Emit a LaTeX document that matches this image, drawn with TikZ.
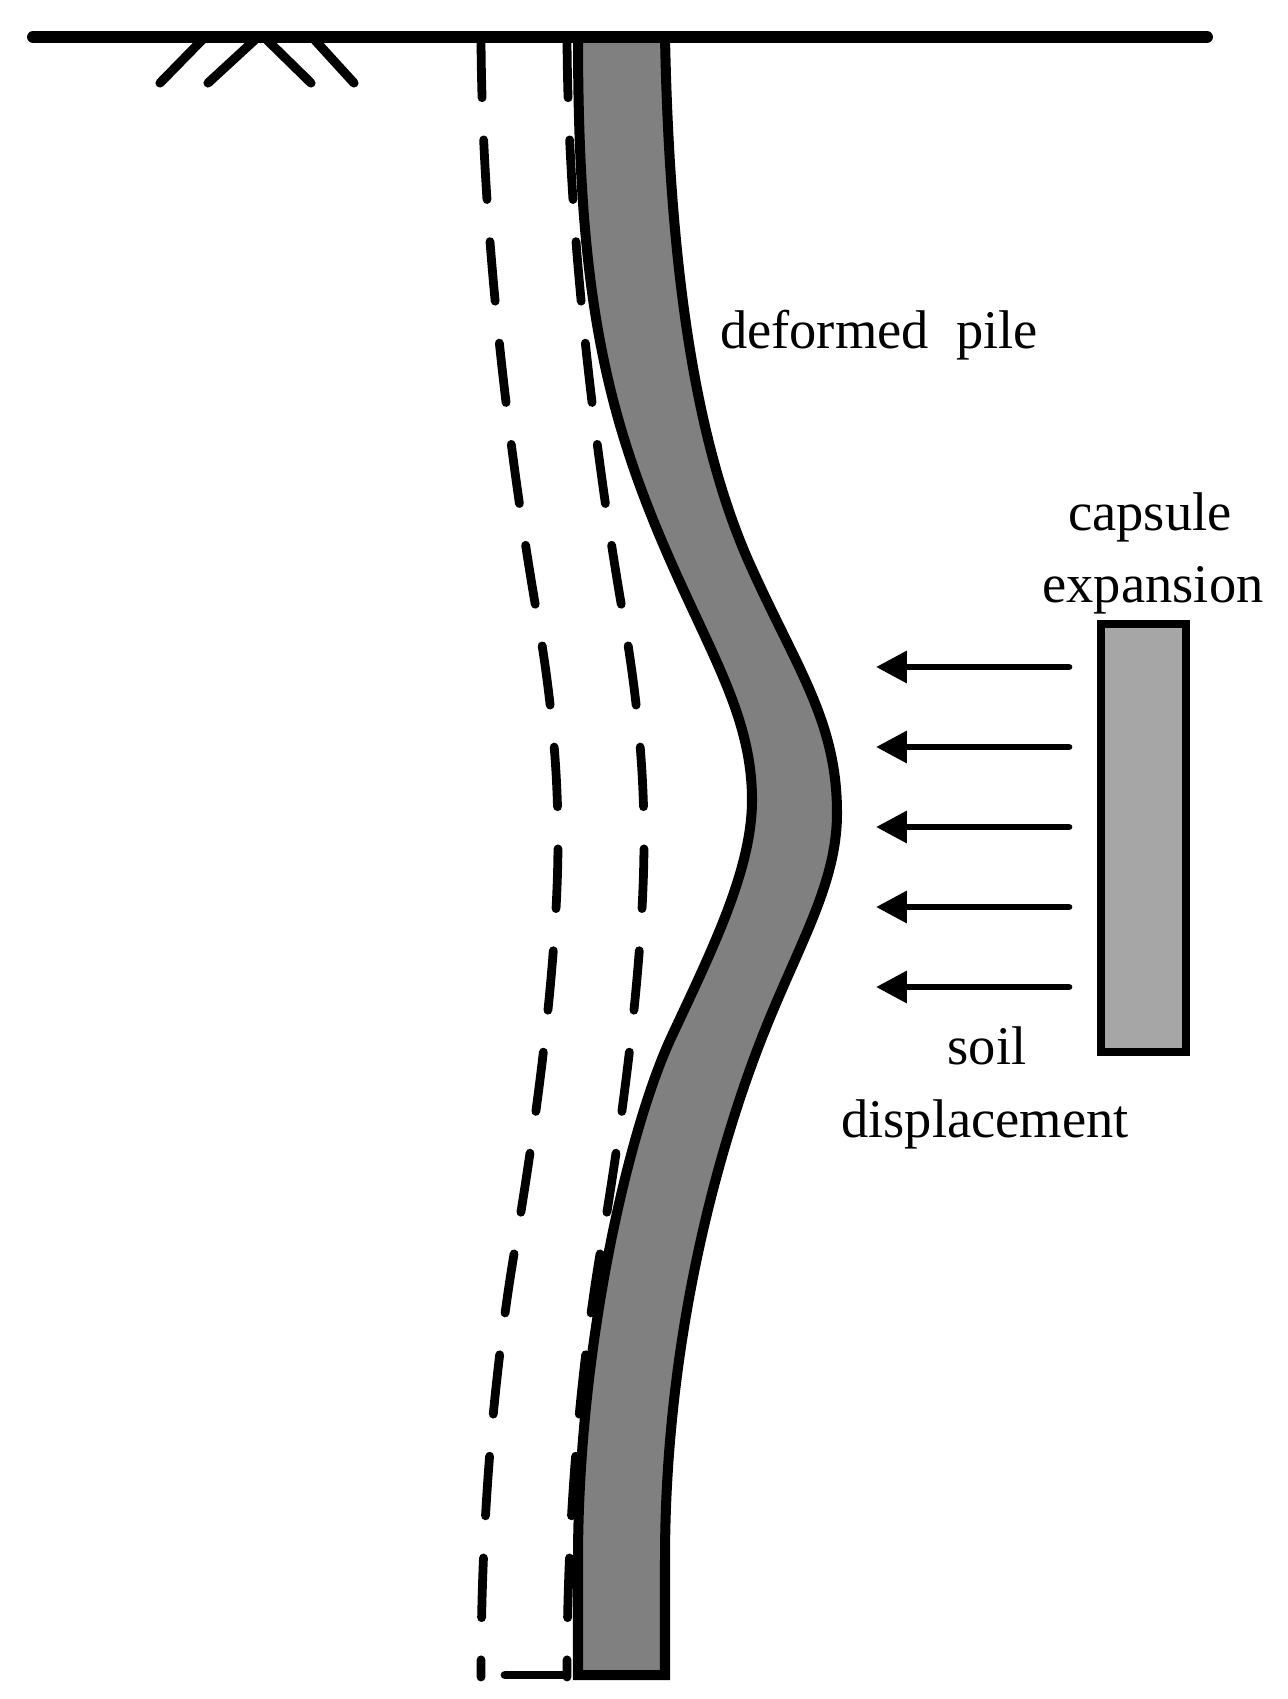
\documentclass[tikz,border=0pt]{standalone}
\usepackage{fontspec}
\setmainfont{Liberation Serif}
\usetikzlibrary{arrows.meta}

\begin{document}
\begin{tikzpicture}[
  x=0.569pt,
  y=-0.569pt,
  >={Triangle[length=17.5pt,width=17.5pt]},
  ground/.style={line width=6.8pt,line cap=round},
  hatch/.style={line width=5.2pt,line cap=round},
  trace/.style={line width=5pt,line cap=round,dash pattern=on 34pt off 24pt},
  pile/.style={draw,line width=5.7pt,fill=black!50,miter limit=10},
  capsule/.style={draw,line width=4.9pt,fill=black!35},
  push/.style={line width=3.8pt,line cap=round},
  word/.style={anchor=base,inner sep=0,font=\fontsize{31}{36}\selectfont}
  ]

  \useasboundingbox (0, 0) rectangle (1288, 1699);

  % original pile position
  \foreach \dx in {0, 86} {
    \draw[trace,shift={(\dx, 0)}] (481, 38)
      .. controls (482, 250) and (514, 480) .. (535, 603)
      .. controls (547, 670) and (558, 750) .. (558, 840)
      .. controls (558, 950) and (540, 1100) .. (515, 1248)
      .. controls (497, 1355) and (481, 1500) .. (481, 1677);
  }
  \draw[line width=5pt,line cap=round] (505, 1675) -- (566, 1675);

  % deformed pile
  \draw[pile] (578, 37)
      .. controls (578, 290) and (604, 410) .. (670, 560)
      .. controls (714, 660) and (752, 720) .. (752, 800)
      .. controls (752, 870) and (712, 950) .. (670, 1040)
      .. controls (627, 1135) and (578, 1350) .. (578, 1560)
      -- (578, 1675) -- (665, 1675) -- (665, 1560)
      .. controls (665, 1330) and (722, 1140) .. (761, 1040)
      .. controls (798, 945) and (837, 885) .. (837, 813)
      .. controls (837, 720) and (796, 668) .. (748, 560)
      .. controls (700, 450) and (670, 290) .. (665, 37)
      -- cycle;

  % ground
  \foreach \xa/\xb in {205/160, 258/208, 264/311, 312/354} {
    \draw[hatch] (\xa, 37) -- (\xb, 83);
  }
  \draw[ground] (33, 37) -- (1207, 37);

  % capsule and soil movement
  \draw[capsule] (1101, 624) rectangle (1186, 1052);
  \foreach \ay in {667, 747, 827, 907, 987} {
    \draw[push,->] (1069, \ay) -- (876, \ay);
  }

  \node[word] (pilelabel) at (879, 348) {deformed~~pile};
  \node[word] (capsulelabel) at (1150, 530) {capsule};
  \node[word] (expansionlabel) at (1153, 602) {expansion};
  \node[word] (soillabel) at (987, 1064) {soil};
  \node[word] (displacementlabel) at (985, 1137) {displacement};

\end{tikzpicture}
\end{document}
